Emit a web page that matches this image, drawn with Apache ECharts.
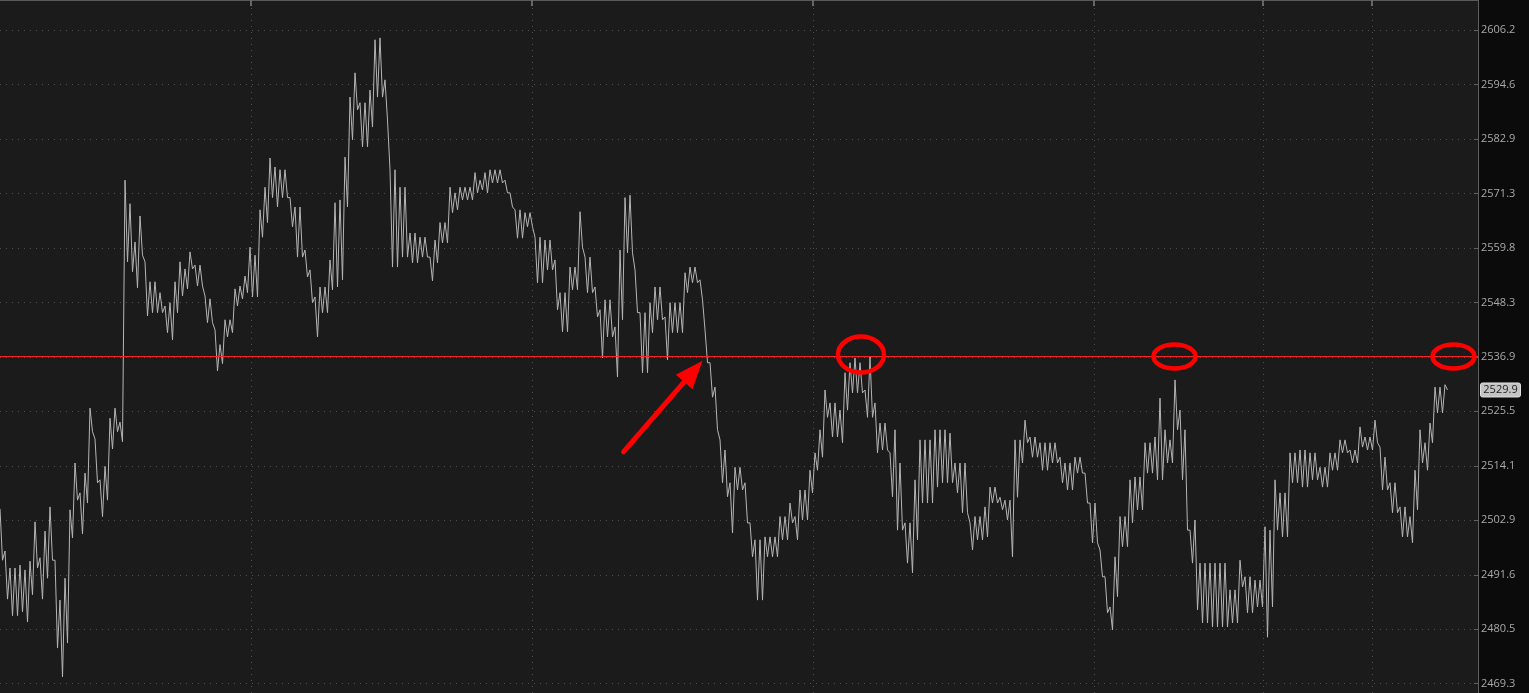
<!DOCTYPE html>
<html>
<head>
<meta charset="utf-8">
<script src="https://cdn.jsdelivr.net/npm/echarts@6/dist/echarts.min.js"></script>
<style>
html,body{margin:0;padding:0;background:#0b0b0b;overflow:hidden;}
#c{width:1529px;height:693px;}
</style>
</head>
<body>
<div id="c"></div>
<script>
// per time step: highest and lowest price of the step
const highs = [
2505.2,2496.5,2493.0,2493.0,2493.6,2492.6,2494.4,2502.5,2495.1,2500.6,
2505.6,2494.6,2486.4,2490.9,2505.0,2514.7,2508.5,2512.6,2526.1,2519.7,
2511.2,2514.0,2524.0,2526.1,2523.2,2574.1,2569.1,2561.0,2566.5,2556.8,
2552.6,2552.6,2550.3,2547.5,2548.2,2552.6,2556.8,2555.3,2558.9,2556.1,
2556.1,2549.6,2549.0,2542.5,2539.4,2544.6,2544.6,2551.1,2551.7,2553.8,
2559.9,2558.2,2567.8,2572.6,2578.8,2576.9,2576.3,2576.3,2570.4,2568.4,
2568.4,2559.3,2555.1,2549.4,2551.5,2551.5,2557.2,2569.3,2569.9,2579.0,
2591.8,2597.0,2590.6,2590.6,2593.3,2604.1,2604.5,2595.5,2576.3,2576.3,
2572.6,2572.6,2562.9,2562.9,2562.0,2562.0,2557.8,2561.4,2565.1,2565.1,
2572.6,2571.4,2572.6,2572.6,2572.6,2575.7,2574.1,2575.7,2576.3,2576.3,
2576.3,2574.1,2571.4,2567.8,2567.8,2567.2,2567.2,2562.0,2562.0,2561.4,
2561.4,2557.2,2550.3,2550.3,2555.7,2555.7,2567.4,2557.8,2557.8,2551.5,
2546.7,2548.8,2548.8,2543.1,2559.3,2570.4,2570.9,2555.1,2546.1,2546.1,
2548.2,2551.5,2551.5,2545.2,2548.2,2548.2,2548.2,2554.5,2555.7,2555.7,
2553.0,2542.5,2535.6,2530.5,2519.5,2517.4,2510.6,2513.8,2513.8,2510.6,
2502.3,2498.8,2498.8,2499.4,2499.4,2499.4,2503.6,2503.6,2506.4,2503.6,
2509.1,2509.1,2513.2,2516.8,2521.6,2529.9,2527.2,2527.2,2525.7,2533.5,
2535.6,2536.6,2535.6,2529.9,2536.8,2527.2,2523.0,2523.0,2516.8,2521.6,
2514.7,2502.3,2502.3,2511.2,2519.5,2519.5,2519.5,2521.6,2521.6,2521.6,
2520.9,2514.7,2514.7,2514.7,2502.3,2503.6,2503.6,2505.6,2509.7,2509.7,
2507.6,2507.0,2507.0,2519.5,2519.5,2523.6,2520.1,2520.1,2518.9,2518.9,
2518.9,2518.9,2515.9,2514.7,2514.7,2515.9,2515.9,2512.6,2506.4,2506.4,
2496.7,2491.2,2485.0,2495.3,2503.6,2503.6,2511.2,2511.8,2511.8,2518.9,
2518.9,2520.1,2528.2,2521.6,2519.5,2532.0,2525.7,2521.6,2500.8,2502.9,
2494.0,2494.0,2494.0,2494.0,2494.0,2494.0,2488.5,2488.5,2494.6,2491.2,
2491.2,2490.5,2490.5,2501.5,2500.8,2511.2,2508.5,2508.5,2516.8,2516.8,
2517.4,2517.4,2516.8,2516.8,2513.8,2513.8,2516.8,2516.8,2519.5,2519.5,
2517.4,2517.4,2522.2,2520.1,2520.1,2523.6,2518.0,2515.9,2510.6,2510.6,
2505.6,2505.6,2503.6,2513.2,2521.6,2518.9,2523.0,2530.5,2530.5,2531.0
];
const lows = [
2494.6,2486.6,2483.2,2483.2,2484.0,2481.9,2487.5,2493.0,2486.6,2490.9,
2494.6,2476.6,2470.7,2477.6,2499.2,2507.0,2500.0,2506.4,2521.2,2510.6,
2503.6,2507.0,2517.6,2521.2,2519.1,2556.8,2554.7,2551.3,2558.2,2545.4,
2546.1,2546.1,2546.1,2541.9,2540.4,2546.1,2549.6,2551.1,2555.3,2551.7,
2551.7,2544.0,2544.0,2533.9,2535.4,2541.0,2541.9,2547.5,2549.0,2550.3,
2549.4,2549.4,2562.0,2565.1,2570.4,2568.4,2570.4,2570.4,2564.2,2557.8,
2557.8,2553.6,2548.2,2541.0,2546.1,2546.1,2550.9,2551.5,2553.0,2568.4,
2582.7,2589.1,2581.2,2581.2,2585.4,2591.8,2591.8,2586.9,2555.7,2555.7,
2557.8,2557.8,2556.6,2556.6,2557.8,2557.8,2552.8,2556.6,2560.8,2560.8,
2567.2,2567.8,2569.9,2569.9,2569.9,2571.4,2572.0,2571.4,2573.5,2573.5,
2573.5,2571.4,2568.4,2561.8,2561.8,2564.2,2564.2,2552.4,2552.4,2555.1,
2555.1,2546.7,2542.1,2542.1,2550.9,2550.9,2559.9,2550.3,2550.3,2545.2,
2536.6,2541.0,2541.0,2532.6,2544.6,2558.7,2558.7,2546.1,2533.5,2533.5,
2541.9,2544.6,2544.6,2536.2,2541.9,2541.9,2541.9,2550.3,2552.4,2552.4,
2548.8,2535.6,2528.4,2521.6,2510.6,2507.7,2500.2,2509.1,2509.1,2502.3,
2495.3,2486.4,2486.4,2495.3,2495.3,2495.3,2498.8,2498.8,2502.3,2498.8,
2502.9,2502.9,2508.5,2513.2,2515.9,2524.2,2520.1,2520.1,2518.9,2525.7,
2529.3,2529.3,2529.3,2524.2,2524.2,2516.8,2517.4,2517.4,2507.7,2500.8,
2500.8,2494.0,2492.0,2498.8,2506.4,2506.4,2506.4,2509.7,2510.6,2510.6,
2510.6,2508.5,2504.4,2504.4,2496.7,2498.8,2498.8,2499.4,2506.4,2506.4,
2505.0,2502.9,2495.3,2507.6,2514.7,2518.9,2515.9,2515.9,2513.2,2513.2,
2514.7,2514.7,2510.6,2509.1,2509.1,2512.6,2512.6,2506.4,2498.2,2498.2,
2491.2,2483.8,2480.3,2487.1,2497.4,2497.4,2502.3,2505.0,2505.0,2512.6,
2512.6,2511.2,2511.2,2514.7,2514.7,2521.6,2511.2,2500.8,2494.0,2484.4,
2481.7,2481.7,2480.9,2480.9,2480.9,2480.9,2481.7,2481.7,2489.1,2483.8,
2483.8,2485.0,2485.0,2478.8,2485.0,2500.8,2499.4,2499.4,2510.6,2510.6,
2509.7,2509.7,2511.2,2511.2,2509.7,2509.7,2513.2,2513.2,2516.8,2516.8,
2514.7,2514.7,2518.0,2517.4,2517.4,2518.9,2509.1,2509.1,2504.4,2504.4,
2499.4,2499.4,2498.2,2505.0,2514.7,2513.2,2518.9,2525.1,2525.1,2529.9
];
// price-axis tick labels (log scale, evenly spaced), bottom to top
const tickLabels = ['2469.3','2480.5','2491.6','2502.9','2514.1','2525.5','2536.9','2548.3','2559.8','2571.3','2582.9','2594.6','2606.2'];
const lastPrice = 2529.9;
const levelPrice = 2536.9;
// vertical time grid lines, in time-step units
const timeLines = [50.2, 106.4, 162.6, 218.8, 252.6, 274.4];
// annotations (time step, price)
const circleMarks = [[172.2, 2537.3], [234.9, 2536.9], [290.7, 2536.9]];
const arrowFrom = [124.7, 2517.0];
const arrowTo = [140.5, 2536.0];

const base = parseFloat(tickLabels[0]);
const topV = parseFloat(tickLabels[tickLabels.length - 1]);
const step = Math.log(topV / base) / (tickLabels.length - 1);
const T = p => Math.log(p / base) / step;
const tickIdx = tickLabels.map((_, k) => k);

// line through each step's high then low
const lineData = [];
highs.forEach((h, i) => { lineData.push([i, T(h)]); lineData.push([i + 0.5, T(lows[i])]); });

const chart = echarts.init(document.getElementById('c'), null, {renderer: 'canvas'});

const gridLineStyle = {color: '#4f4f4f', width: 1, type: [1, 5]};
const option = {
  animation: false,
  backgroundColor: '#0b0b0b',
  grid: {left: 0, right: 51, top: 0, bottom: 0, show: true, backgroundColor: '#1b1b1b', borderWidth: 0},
  xAxis: {
    type: 'value', min: 0, max: 295.6, position: 'top',
    axisLine: {show: true, onZero: false, lineStyle: {color: '#5a5a5a', width: 2}},
    axisTick: {show: true, inside: true, length: 6, customValues: timeLines, lineStyle: {color: '#6a6a6a', width: 2}},
    axisLabel: {show: false},
    splitLine: {show: false}
  },
  yAxis: {
    type: 'value', position: 'right', min: -0.1707, max: 12.5507,
    axisLine: {show: true, onZero: false, lineStyle: {color: '#5e5e5e', width: 1}},
    axisTick: {show: true, inside: true, length: 4, customValues: tickIdx, lineStyle: {color: '#6a6a6a'}},
    axisLabel: {
      color: '#a9a9a9', fontSize: 11, fontFamily: 'Open Sans', margin: 3, customValues: tickIdx,
      formatter: v => { const k = Math.round(v); return tickLabels[k] || ''; }
    },
    splitLine: {show: false}
  },
  series: [
    {
      type: 'line', data: [], z: 1,
      markLine: {
        silent: true, symbol: 'none', label: {show: false}, z: 1, animation: false,
        lineStyle: gridLineStyle,
        data: timeLines.map(x => ({xAxis: x})).concat(tickIdx.map(k => ({yAxis: k})))
      }
    },
    {
      type: 'line', z: 3,
      data: lineData,
      showSymbol: false, symbol: 'none',
      lineStyle: {color: '#b5b5b5', width: 1},
      markLine: {
        silent: true, symbol: 'none', label: {show: false}, z: 6, animation: false,
        data: [{yAxis: T(levelPrice), lineStyle: {color: '#ff2222', width: 1, type: 'solid'}}]
      }
    }
  ]
};
chart.setOption(option);

const px = (i, p) => chart.convertToPixel({gridIndex: 0}, [i, T(p)]);
const graphics = [];
const radii = [[23, 18], [21, 12], [21, 12]];
circleMarks.forEach((c, k) => {
  const [cx, cy] = px(c[0], c[1]);
  graphics.push({type: 'ellipse', z: 100, shape: {cx, cy, rx: radii[k][0], ry: radii[k][1]},
    style: {fill: 'none', stroke: '#ff0000', lineWidth: 4.5}});
});
const a0 = px(arrowFrom[0], arrowFrom[1]);
const a1 = px(arrowTo[0], arrowTo[1]);
const dx = a1[0] - a0[0], dy = a1[1] - a0[1];
const L = Math.hypot(dx, dy), ux = dx / L, uy = dy / L;
const headLen = 28, headW = 11;
const bx = a1[0] - ux * headLen, by = a1[1] - uy * headLen;
graphics.push({type: 'polyline', z: 100, shape: {points: [a0, [bx + ux * 2, by + uy * 2]]},
  style: {stroke: '#ff0000', lineWidth: 5, lineCap: 'round', fill: null}});
graphics.push({type: 'polygon', z: 100, shape: {points: [a1, [bx - uy * headW, by + ux * headW], [bx + uy * headW, by - ux * headW]]},
  style: {fill: '#ff0000'}});
const lp = px(highs.length - 0.5, lastPrice);
graphics.push({type: 'rect', z: 100, shape: {x: 1480.5, y: lp[1] - 7, width: 40, height: 14, r: 2},
  style: {fill: '#c4c4c4', stroke: '#e0e0e0', lineWidth: 1}});
graphics.push({type: 'text', z: 101, x: 1500.5, y: lp[1],
  style: {text: String(lastPrice), fill: '#222222', font: '11px "Open Sans"', align: 'center', verticalAlign: 'middle'}});
chart.setOption({graphic: graphics});
</script>
</body>
</html>
